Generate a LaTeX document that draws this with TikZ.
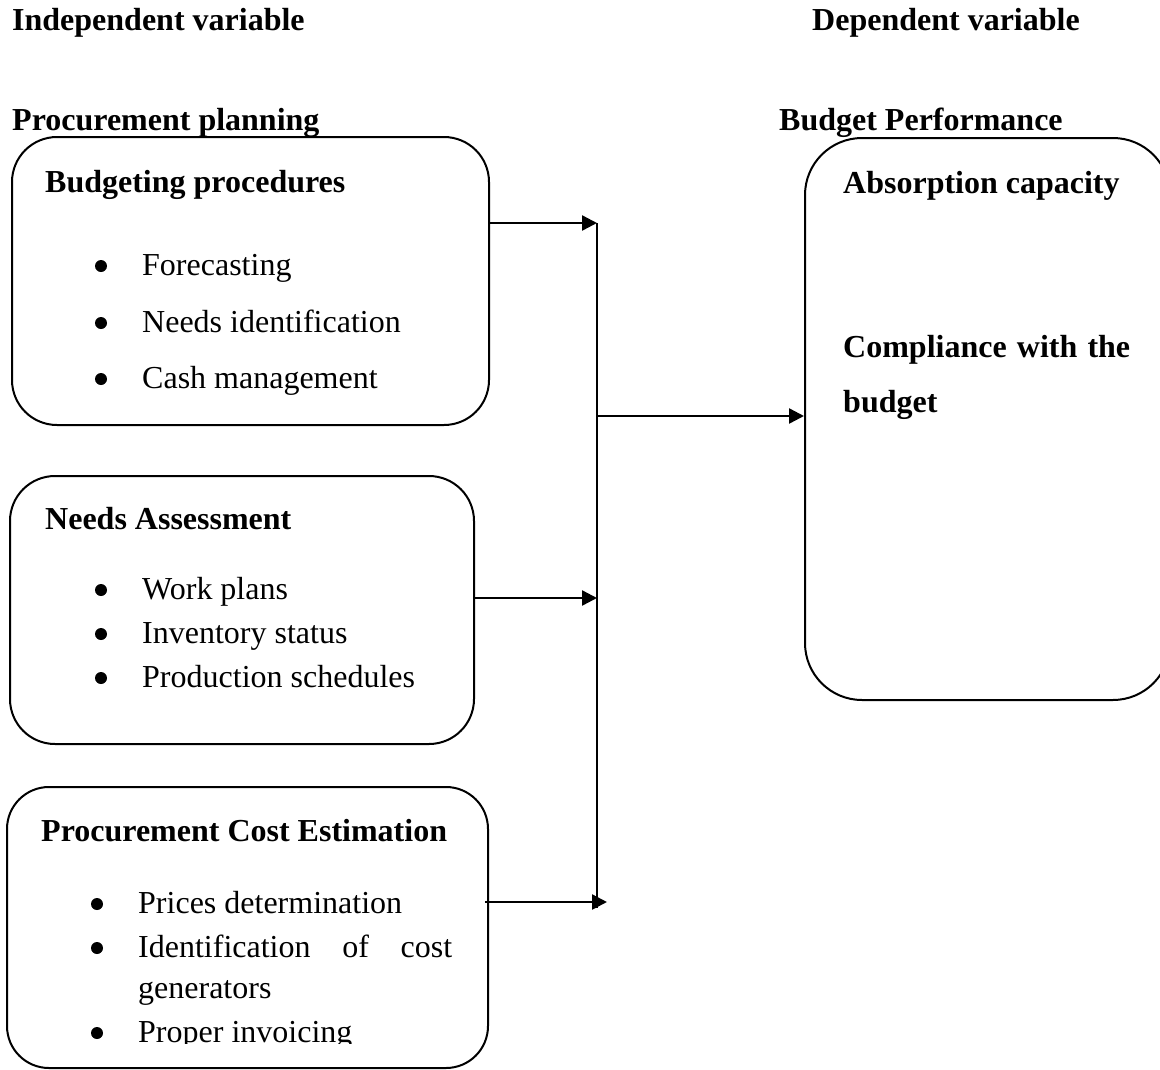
\documentclass[tikz,border=0pt]{standalone}
\usepackage{fontspec}
\setmainfont{Liberation Serif}
\usetikzlibrary{arrows.meta}
\begin{document}
\begin{tikzpicture}[x=1pt,y=-1pt,
  box/.style={draw, line width=2pt, inner sep=0pt},
  lbl/.style={anchor=base west, inner sep=0pt, font=\fontsize{32}{38}\selectfont},
  hd/.style={anchor=base west, inner sep=0pt, font=\fontsize{32}{38}\selectfont\bfseries},
  bul/.style={circle, fill, inner sep=0pt, minimum size=12pt},
  arr/.style={line width=2.4pt, -{Triangle[length=15pt,width=15pt]}},
  busline/.style={line width=2pt}]
\useasboundingbox (0,0) rectangle (1160,1069);
\clip (0,0) rectangle (1160,1069);

% headers
\node[hd] (iv) at (12,30) {Independent variable};
\node[hd] (dv) at (812,30) {Dependent variable};
\node[hd] (pp) at (12,130) {Procurement planning};
\node[hd] (bp) at (779,130) {Budget Performance};

% boxes
\node[box, rounded corners=45pt, minimum width=477pt, minimum height=288pt] (b1) at (250.5,281) {};
\node[box, rounded corners=45pt, minimum width=464pt, minimum height=268pt] (b2) at (242,610) {};
\node[box, rounded corners=42pt, minimum width=481pt, minimum height=281pt] (b3) at (247.5,927.5) {};
\node[box, rounded corners=57pt, minimum width=365pt, minimum height=562pt] (rb) at (987.5,419) {};

% box 1
\node[hd] (t1) at (45,192) {Budgeting procedures};
\node[bul] (d11) at (101,266) {};
\node[lbl] (t11) at (142,275) {Forecasting};
\node[bul] (d12) at (101,323) {};
\node[lbl] (t12) at (142,332) {Needs identification};
\node[bul] (d13) at (101,379) {};
\node[lbl] (t13) at (142,388) {Cash management};

% box 2
\node[hd] (t2) at (45,529) {Needs Assessment};
\node[bul] (d21) at (101,590) {};
\node[lbl] (t21) at (142,599) {Work plans};
\node[bul] (d22) at (101,634) {};
\node[lbl] (t22) at (142,643) {Inventory status};
\node[bul] (d23) at (101,678) {};
\node[lbl] (t23) at (142,687) {Production schedules};

% box 3
\node[hd] (t3) at (41,841) {Procurement Cost Estimation};
\node[bul] (d31) at (97,904) {};
\node[lbl] (t31) at (138,913) {Prices determination};
\node[bul] (d32) at (97,948) {};
\node[lbl] (t32) at (138,957) {\makebox[314pt][s]{Identification of cost}};
\node[lbl] (t33) at (138,998) {generators};
\node[bul] (d34) at (97,1033) {};
\begin{scope}
\clip (0,0) rectangle (1160,1043);
\node[lbl] (t34) at (138,1042) {Proper invoicing};
\end{scope}

% right box
\node[hd] (r1) at (843,193) {Absorption capacity};
\node[hd] (r2) at (843,357) {\makebox[287pt][s]{Compliance with the}};
\node[hd] (r3) at (843,412) {budget};

% bus and arrows
\coordinate (bus1) at (597,223);
\coordinate (bus2) at (597,598);
\coordinate (bus3) at (597,902);
\coordinate (busend) at (597,908);
\coordinate (busmid) at (598,416);
\draw[busline] (bus1) -- (busend);
\draw[arr] (b1.east |- bus1) -- (bus1);
\draw[arr] (b2.east |- bus2) -- (bus2);
\draw[arr] ([xshift=-4pt]b3.east |- bus3) -- ([xshift=10pt]bus3);
\draw[arr] (busmid) -- (rb.west |- busmid);
\end{tikzpicture}
\end{document}
